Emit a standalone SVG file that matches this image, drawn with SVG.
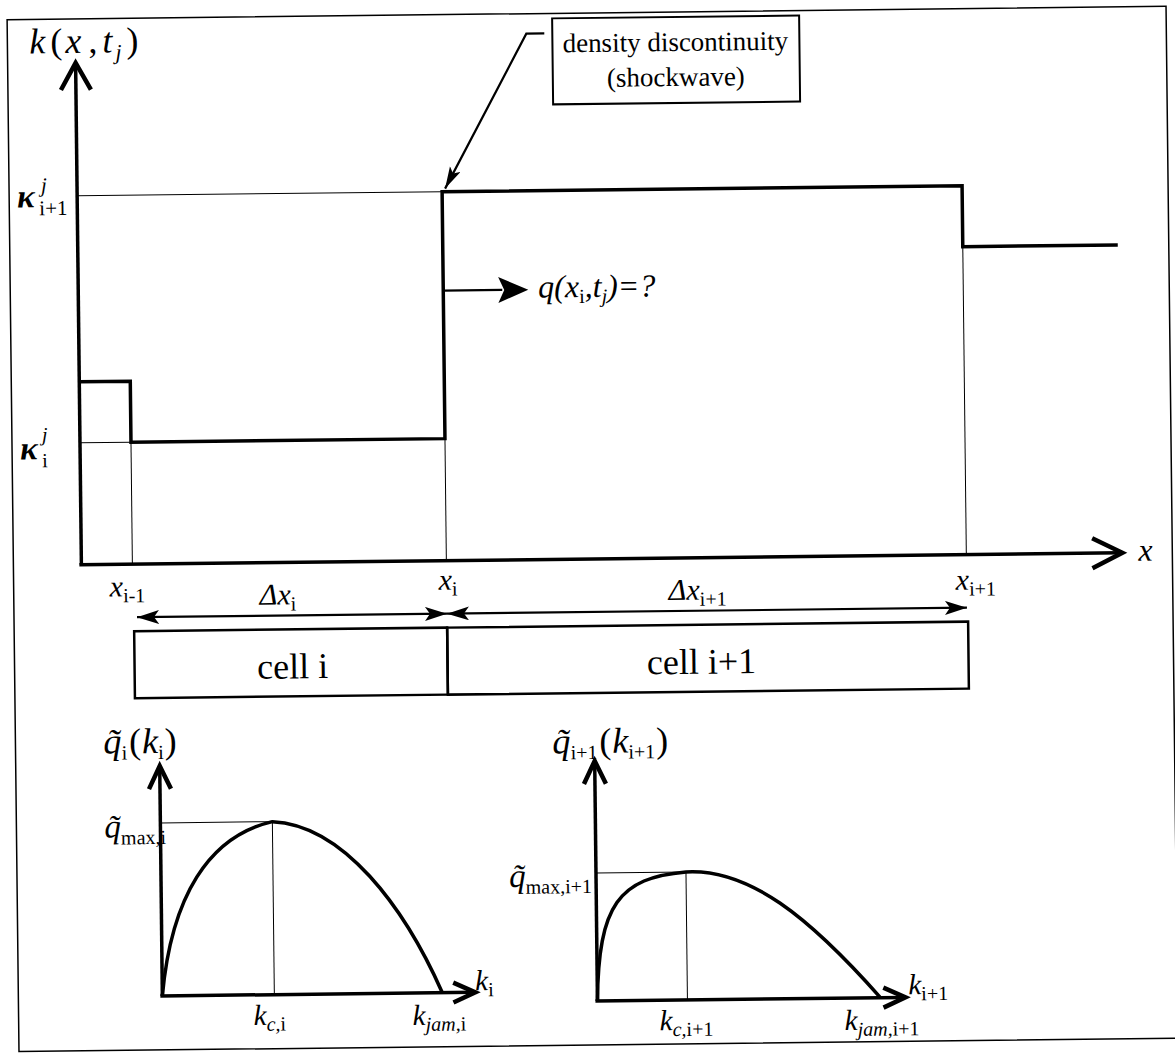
<svg xmlns="http://www.w3.org/2000/svg" width="1175" height="1057" viewBox="0 0 1175 1057">
<style>
 .thick{stroke:#000;stroke-width:3.5;fill:none;stroke-linejoin:miter}
 .thin{stroke:#000;stroke-width:1;fill:none}
 .axis{stroke:#000;stroke-width:3.5;fill:none}
 .chev{stroke:#000;stroke-width:4.5;fill:none;stroke-linecap:butt;stroke-linejoin:miter}
 .dim{stroke:#000;stroke-width:2.2;fill:none}
 text{font-family:"Liberation Serif","Times New Roman",serif;fill:#000}
 .it{font-style:italic}
 .lbl{font-size:30px}
 .sub{font-size:20px;font-style:normal}
</style>
<defs>
 <marker id="ah" markerUnits="userSpaceOnUse" markerWidth="24" markerHeight="16" refX="22" refY="7" orient="auto-start-reverse">
  <path d="M0,0 L22,7 L0,14 L5,7 z" fill="#000"/>
 </marker>
 <marker id="lead" markerUnits="userSpaceOnUse" markerWidth="24" markerHeight="14" refX="22" refY="6" orient="auto">
  <path d="M0,0 L22,6 L0,12 L5,6 z" fill="#000"/>
 </marker>
</defs>
<rect width="1175" height="1057" fill="#fff"/>
<g transform="rotate(-0.66 588 528)">
 <rect id="frame" x="13" y="13" width="1159" height="1032" fill="none" stroke="#000" stroke-width="1.5"/>

 <g id="main-axes">
  <line class="axis" x1="81" y1="60" x2="81" y2="559"/>
  <polyline class="chev" points="66,84 81,57 96,84"/>
  <line class="axis" x1="79" y1="559" x2="1120" y2="559"/>
  <polyline class="chev" points="1092,544 1122,559 1092,574"/>
 </g>

 <g id="gridlines">
  <line class="thin" x1="81" y1="190" x2="446" y2="190"/>
  <line class="thin" x1="81" y1="437" x2="132" y2="437"/>
  <line class="thin" x1="132" y1="437" x2="132" y2="559"/>
  <line class="thin" x1="446" y1="437" x2="446" y2="559"/>
  <line class="thin" x1="966" y1="251" x2="966" y2="559"/>
 </g>

 <g id="density-profile">
  <polyline class="thick" points="81,376 132,376 132,437 446,437 446,190 966,190 966,251 1121,251"/>
 </g>

 <g id="labels-main">
  <text class="it" font-size="36" y="47"><tspan x="35">k</tspan><tspan x="56" font-style="normal">(</tspan><tspan x="71">x</tspan><tspan x="94" font-style="normal">,</tspan><tspan x="108">t</tspan><tspan x="121" y="54" font-size="22">j</tspan><tspan x="132" y="47" font-style="normal">)</tspan></text>
  <text class="it" font-size="33" font-weight="bold" x="21" y="201">κ</text>
  <text class="it" font-size="21" x="45" y="186">j</text>
  <text font-size="21" x="43" y="209">i+1</text>
  <text class="it" font-size="33" font-weight="bold" x="21" y="453">κ</text>
  <text class="it" font-size="20" x="43" y="435">j</text>
  <text font-size="20" x="43" y="461">i</text>
  <text class="it" font-size="32" x="1138" y="567">x</text>
 </g>

 <g id="shock-node">
  <rect x="558" y="18" width="247" height="86" fill="#fff" stroke="#000" stroke-width="2"/>
  <text font-size="27" x="681" y="52" text-anchor="middle">density discontinuity</text>
  <text font-size="27" x="681" y="87" text-anchor="middle">(shockwave)</text>
 </g>

 <g id="connectors">
  <polyline class="dim" points="550,33 532,33 449,187" marker-end="url(#lead)"/>
  <line class="dim" x1="446" y1="289" x2="505" y2="289"/>
  <path d="M531,289 L501,276 L507,289 L501,302 z" fill="#000"/>
  <line class="dim" x1="136" y1="612" x2="446" y2="612" marker-start="url(#ah)" marker-end="url(#ah)"/>
  <line class="dim" x1="446" y1="612" x2="966" y2="612" marker-start="url(#ah)" marker-end="url(#ah)"/>
 </g>

 <g id="q-label">
  <text class="it" font-size="32" y="297"><tspan x="541">q(x</tspan><tspan y="303" font-size="20" font-style="normal">i</tspan><tspan y="297">,t</tspan><tspan y="303" font-size="20">j</tspan><tspan y="297">)=?</tspan></text>
 </g>

 <g id="x-labels">
  <text class="it lbl" x="109" y="591">x<tspan class="sub" y="597">i-1</tspan></text>
  <text class="it lbl" x="259" y="601">Δx<tspan class="sub" y="607">i</tspan></text>
  <text class="it lbl" x="438" y="588">x<tspan class="sub" y="594">i</tspan></text>
  <text class="it lbl" x="668" y="601">Δx<tspan class="sub" y="607">i+1</tspan></text>
  <text class="it lbl" x="955" y="594">x<tspan class="sub" y="600">i+1</tspan></text>
 </g>

 <g id="cells">
  <g id="cell-i">
   <rect x="133" y="626" width="313" height="67" fill="none" stroke="#000" stroke-width="2.5"/>
   <text font-size="36" x="291" y="675" text-anchor="middle">cell i</text>
  </g>
  <g id="cell-i1">
   <rect x="446" y="626" width="521" height="67" fill="none" stroke="#000" stroke-width="2.5"/>
   <text font-size="36" x="700" y="675" text-anchor="middle">cell i+1</text>
  </g>
 </g>

 <g id="fd-cell-i">
  <line class="axis" x1="157" y1="762" x2="157" y2="991"/>
  <polyline class="chev" points="146,784 157,761 168,784"/>
  <line class="axis" x1="155" y1="991" x2="468" y2="991"/>
  <polyline class="chev" points="448,981 470,991 448,1001"/>
  <line class="thin" x1="157" y1="818" x2="269" y2="818"/>
  <line class="thin" x1="269" y1="818" x2="269" y2="991"/>
  <path class="thick" d="M157,991 C167,892 205,832 269,818 C340,822 400,905 437,991"/>
  <text class="it" font-size="36" x="101" y="748">q&#x303;<tspan class="sub" font-size="23" y="754">i</tspan><tspan font-style="normal" dx="2" y="748">(</tspan><tspan dx="1">k</tspan><tspan class="sub" font-size="23" y="754">i</tspan><tspan font-style="normal" dx="1" y="748">)</tspan></text>
  <text class="it" font-size="33" x="101" y="832">q&#x303;<tspan class="sub" font-size="19" y="839">max,i</tspan></text>
  <text class="it" font-size="29" x="248" y="1021">k<tspan class="sub" y="1027"><tspan font-style="italic">c,</tspan>i</tspan></text>
  <text class="it" font-size="29" x="407" y="1023">k<tspan class="sub" y="1029"><tspan font-style="italic">jam,</tspan>i</tspan></text>
  <text class="it" font-size="29" x="470" y="989">k<tspan class="sub" y="995">i</tspan></text>
 </g>

 <g id="fd-cell-i1">
  <line class="axis" x1="592" y1="762" x2="592" y2="1001"/>
  <polyline class="chev" points="581,784 592,761 603,784"/>
  <line class="axis" x1="590" y1="1001" x2="898" y2="1001"/>
  <polyline class="chev" points="878,991 900,1001 878,1011"/>
  <line class="thin" x1="592" y1="873" x2="682" y2="873"/>
  <line class="thin" x1="682" y1="873" x2="682" y2="1001"/>
  <path class="thick" d="M592,1001 C594,905 615,878 682,873 C745,870 805,920 875,1001"/>
  <text class="it" font-size="36" x="550" y="753">q&#x303;<tspan class="sub" font-size="23" y="759">i+1</tspan><tspan font-style="normal" dx="2" y="753">(</tspan><tspan dx="1">k</tspan><tspan class="sub" font-size="23" y="759">i+1</tspan><tspan font-style="normal" dx="1" y="753">)</tspan></text>
  <text class="it" font-size="33" x="505" y="886">q&#x303;<tspan class="sub" font-size="19" y="893">max,i+1</tspan></text>
  <text class="it" font-size="29" x="654" y="1031">k<tspan class="sub" y="1037"><tspan font-style="italic">c,</tspan>i+1</tspan></text>
  <text class="it" font-size="29" x="839" y="1033">k<tspan class="sub" y="1039"><tspan font-style="italic">jam,</tspan>i+1</tspan></text>
  <text class="it" font-size="29" x="903" y="998">k<tspan class="sub" y="1004">i+1</tspan></text>
 </g>
</g>
</svg>
